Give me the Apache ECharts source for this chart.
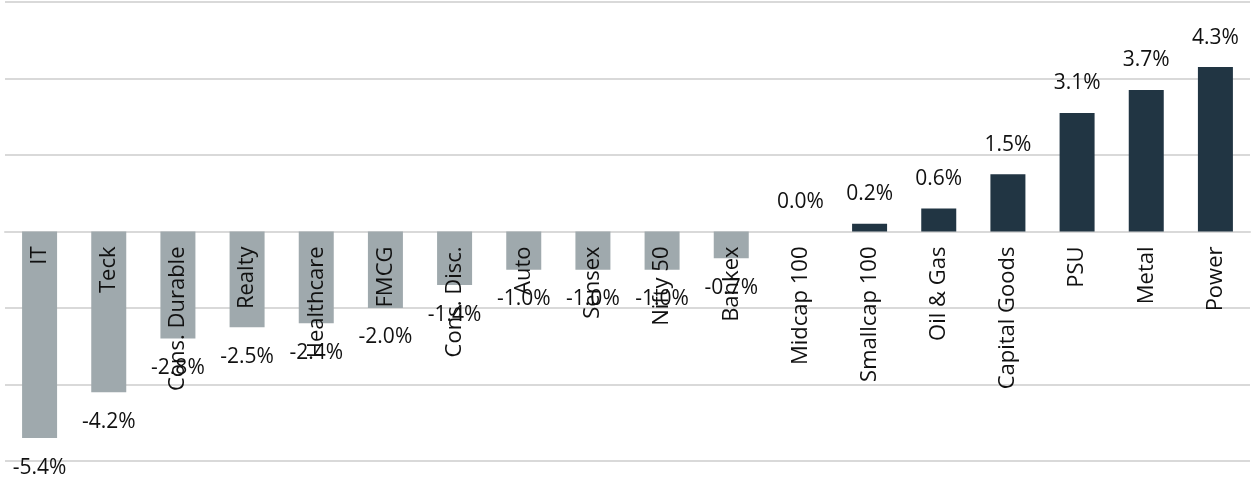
<!DOCTYPE html>
<html>
<head>
<meta charset="utf-8">
<script src="https://cdn.jsdelivr.net/npm/echarts@6/dist/echarts.min.js"></script>
<style>
    html, body { margin: 0; padding: 0; background: #fff; }
    #myChart { width: 1256px; height: 477px; }
</style>
</head>
<body>
<div id="myChart"></div>
<script>
// 板块涨跌幅
var categories = ['IT', 'Teck', 'Cons. Durable', 'Realty', 'Healthcare', 'FMCG', 'Cons. Disc.', 'Auto', 'Sensex', 'Nifty 50', 'Bankex',
    'Midcap 100', 'Smallcap 100', 'Oil & Gas', 'Capital Goods', 'PSU', 'Metal', 'Power'];
var values = [-5.4, -4.2, -2.8, -2.5, -2.4, -2.0, -1.4, -1.0, -1.0, -1.0, -0.7,
    0.0, 0.2, 0.6, 1.5, 3.1, 3.7, 4.3];

var fontFamily = '"Open Sans", sans-serif';

/**
 * 柱子数据
 */
var barData = function () {
    return values.map(function (v) {
        return {
            value: v,
            itemStyle: {color: v < 0 ? '#9fa9ad' : '#213543'},
            label: {position: v < 0 ? 'bottom' : 'top'}
        };
    });
};

var myChart = echarts.init(document.getElementById('myChart')),
    option = {
        animation: false,
        grid: {
            left: 5,
            right: 6,
            top: 2,
            bottom: 16,
            containLabel: false,
            outerBoundsMode: 'none'
        },
        xAxis: {
            type: 'category',
            data: categories,
            axisLine: {onZero: true, lineStyle: {color: '#d9d9d9', width: 2}},
            axisTick: {show: false},
            axisLabel: {show: false}
        },
        yAxis: {
            type: 'value',
            min: -6,
            max: 6,
            interval: 2,
            axisLabel: {show: false},
            axisLine: {show: false},
            axisTick: {show: false},
            splitLine: {lineStyle: {color: '#d9d9d9', width: 2}}
        },
        series: [
            {
                type: 'bar',
                barWidth: 35,
                data: barData(),
                label: {
                    show: true,
                    distance: 19,
                    color: '#111',
                    fontSize: 21,
                    fontFamily: fontFamily,
                    formatter: function (p) {
                        return p.value.toFixed(1) + '%';
                    }
                }
            },
            {
                // 类目标签挂在零轴下方
                type: 'bar',
                barWidth: 35,
                barGap: '-100%',
                silent: true,
                z: 5,
                itemStyle: {color: 'rgba(0,0,0,0)'},
                data: categories.map(function () { return 0; }),
                label: {
                    show: true,
                    position: 'bottom',
                    distance: 15,
                    rotate: 90,
                    align: 'right',
                    verticalAlign: 'middle',
                    color: '#111',
                    fontSize: 22,
                    fontFamily: fontFamily,
                    formatter: function (p) {
                        return p.name;
                    }
                }
            }
        ]
    };
myChart.setOption(option);
</script>
</body>
</html>
